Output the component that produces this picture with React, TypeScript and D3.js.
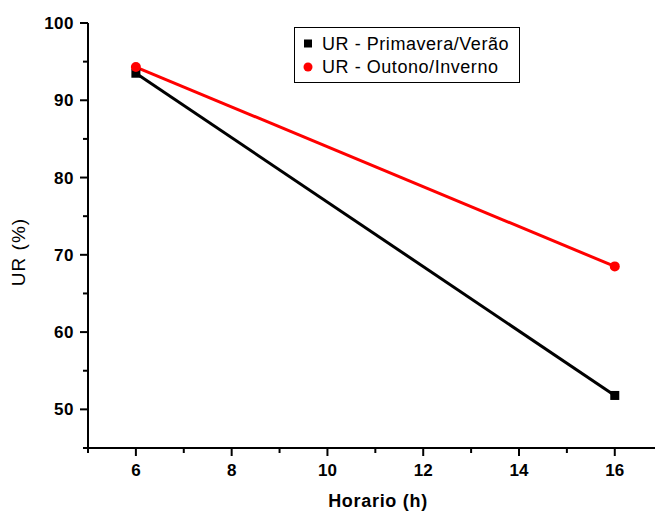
import React from "react";
import * as d3 from "d3";

const hours = [6, 16];
const primaveraVerao = [93.5, 51.8];
const outonoInverno = [94.3, 68.5];
const xMajorTicks = [6, 8, 10, 12, 14, 16];
const xMinorTicks = [5, 7, 9, 11, 13, 15];
const yMajorTicks = [50, 60, 70, 80, 90, 100];
const yMinorTicks = [45, 55, 65, 75, 85, 95];
const seriesNames = ["UR - Primavera/Verão", "UR - Outono/Inverno"];

export default function App() {
  const W = 656, H = 512;
  const left = 88, right = 655, top = 23, bottom = 448;
  const x = d3.scaleLinear().domain([5, 16.84]).range([left, right]);
  const y = d3.scaleLinear().domain([45, 100]).range([bottom, top]);
  const line = d3.line<number>().x((_, i) => x(hours[i])).y((d) => y(d));
  const font = "Arial, 'Liberation Sans', sans-serif";
  return (
    <svg width={W} height={H} style={{ position: "absolute", left: 0, top: 0, background: "#fff" }} fontFamily={font}>
      <rect x={0} y={0} width={W} height={H} fill="#fff" />
      {/* axes */}
      <line x1={left} y1={top} x2={left} y2={bottom + 0.5} stroke="#000" strokeWidth={2} />
      <line x1={left} y1={bottom} x2={right} y2={bottom} stroke="#000" strokeWidth={2} />
      {yMajorTicks.map((t) => (
        <g key={"ym" + t}>
          <line x1={left - 8} x2={left} y1={y(t)} y2={y(t)} stroke="#000" strokeWidth={2} />
          <text x={left - 14} y={y(t)} dy="0.36em" textAnchor="end" fontSize={17} fontWeight="bold" letterSpacing={0.5}>{t}</text>
        </g>
      ))}
      {yMinorTicks.map((t) => (
        <line key={"yn" + t} x1={left - 5} x2={left} y1={y(t)} y2={y(t)} stroke="#000" strokeWidth={2} />
      ))}
      {xMajorTicks.map((t) => (
        <g key={"xm" + t}>
          <line x1={x(t)} x2={x(t)} y1={bottom} y2={bottom + 8} stroke="#000" strokeWidth={2} />
          <text x={x(t)} y={bottom + 28} textAnchor="middle" fontSize={17} fontWeight="bold">{t}</text>
        </g>
      ))}
      {xMinorTicks.map((t) => (
        <line key={"xn" + t} x1={x(t)} x2={x(t)} y1={bottom} y2={bottom + 5} stroke="#000" strokeWidth={2} />
      ))}
      <text x={378} y={507} textAnchor="middle" fontSize={18} fontWeight="bold" letterSpacing={0.7}>Horario (h)</text>
      <text transform={`translate(25,252) rotate(-90)`} textAnchor="middle" fontSize={19} letterSpacing={1}>UR (%)</text>
      {/* series */}
      <path d={line(primaveraVerao) || ""} fill="none" stroke="#000" strokeWidth={3} />
      <path d={line(outonoInverno) || ""} fill="none" stroke="#ff0000" strokeWidth={3} />
      {primaveraVerao.map((v, i) => (
        <rect key={"s" + i} x={x(hours[i]) - 4.5} y={y(v) - 4.5} width={9} height={9} fill="#000" />
      ))}
      {outonoInverno.map((v, i) => (
        <circle key={"c" + i} cx={x(hours[i])} cy={y(v)} r={5} fill="#ff0000" />
      ))}
      {/* legend */}
      <rect x={294.5} y={27.5} width={225} height={55} fill="#fff" stroke="#000" strokeWidth={1} />
      <rect x={304} y={39.5} width={8} height={8} fill="#000" />
      <text x={322} y={43.5} dy="0.36em" fontSize={18} letterSpacing={0.55}>{seriesNames[0]}</text>
      <circle cx={308} cy={67} r={4.5} fill="#ff0000" />
      <text x={322} y={67} dy="0.36em" fontSize={18} letterSpacing={0.55}>{seriesNames[1]}</text>
    </svg>
  );
}
